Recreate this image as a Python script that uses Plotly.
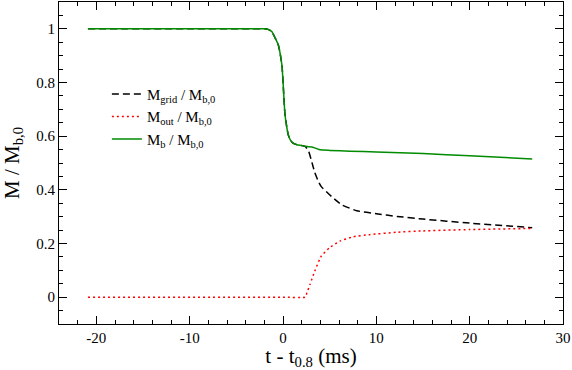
"""Mass fractions vs time around t_0.8."""

import plotly.graph_objects as go

# M_b / M_b,0
t_b = [-20.9, -10, -3, -2, -1.6, -1.2, -0.86, -0.5, -0.3, -0.1, 0.04, 0.2, 0.4, 0.57,
       0.8, 1.07, 1.5, 2.0, 2.36, 2.7, 3.07, 3.5, 3.97, 5, 7.2, 10, 15, 20, 26.7]
m_b = [1.0, 1.0, 1.0, 1.0, 0.998, 0.99, 0.967, 0.94, 0.907, 0.86, 0.78, 0.685, 0.635, 0.604,
       0.585, 0.574, 0.568, 0.565, 0.562, 0.561, 0.56, 0.555, 0.549, 0.547, 0.544, 0.541,
       0.535, 0.527, 0.515]

# M_grid / M_b,0
t_grid = [-20.9, -10, -3, -2, -1.6, -1.2, -0.86, -0.5, -0.3, -0.1, 0.04, 0.2, 0.4, 0.57,
          0.8, 1.07, 1.5, 2.0, 2.36, 2.7, 3.0, 3.4, 3.8, 4.1, 5.2, 6.3, 7.9, 10, 12.2,
          15, 20, 26.7]
m_grid = [1.0, 1.0, 1.0, 1.0, 0.998, 0.99, 0.967, 0.94, 0.907, 0.86, 0.78, 0.685, 0.635,
          0.604, 0.585, 0.574, 0.568, 0.565, 0.562, 0.548, 0.515, 0.465, 0.43, 0.412,
          0.375, 0.344, 0.322, 0.311, 0.301, 0.291, 0.276, 0.259]

# M_out / M_b,0
t_out = [-20.9, 0, 2.36, 2.6, 2.9, 3.4, 4.1, 5.0, 6.1, 7.5, 9.3, 12.2, 15, 20, 26.7]
m_out = [0, 0, 0, 0.02, 0.048, 0.097, 0.153, 0.185, 0.209, 0.225, 0.233, 0.242, 0.247,
         0.252, 0.256]

x_ticks = [-20, -10, 0, 10, 20, 30]
x_labels = ["-20", "-10", "0", "10", "20", "30"]
y_ticks = [0, 0.2, 0.4, 0.6, 0.8, 1.0]
y_labels = ["0", "0.2", "0.4", "0.6", "0.8", "1"]

SERIF = "Liberation Serif"

fig = go.Figure()
fig.add_trace(go.Scatter(x=t_grid, y=m_grid, mode="lines", name="M<sub>grid</sub> / M<sub>b,0</sub>",
                         line=dict(color="black", width=1.5, dash="7px,4px", shape="spline", smoothing=0.4)))
fig.add_trace(go.Scatter(x=t_out, y=m_out, mode="lines", name="M<sub>out</sub> / M<sub>b,0</sub>",
                         line=dict(color="red", width=1.5, dash="2px,3px", shape="spline", smoothing=0.4)))
fig.add_trace(go.Scatter(x=t_b, y=m_b, mode="lines", name="M<sub>b</sub> / M<sub>b,0</sub>",
                         line=dict(color="rgb(0,139,0)", width=1.5, shape="spline", smoothing=0.4)))

axis_common = dict(showline=True, linecolor="black", linewidth=1, mirror="ticks",
                   ticks="inside", ticklen=8, tickwidth=1, tickcolor="black",
                   showgrid=False, zeroline=False, automargin=False,
                   tickfont=dict(family=SERIF, size=15, color="black"))

fig.update_xaxes(range=[-24, 30], tickvals=x_ticks, ticktext=x_labels,
                 minor=dict(ticks="inside", ticklen=4, dtick=2, tick0=0, tickcolor="black"),
                 title=dict(text="t - t<sub>0.8</sub> (ms)",
                            font=dict(family=SERIF, size=21, color="black")),
                 **axis_common)
fig.update_yaxes(range=[-0.1, 1.1], tickvals=y_ticks, ticktext=y_labels,
                 minor=dict(ticks="inside", ticklen=4, dtick=0.05, tick0=0, tickcolor="black"),
                 title=dict(text="M / M<sub>b,0</sub>",
                            font=dict(family=SERIF, size=21, color="black")),
                 **axis_common)

fig.update_layout(
    width=572, height=370,
    font=dict(family=SERIF, color="black"),
    margin=dict(l=59, r=9, t=2, b=46),
    paper_bgcolor="white", plot_bgcolor="white",
    legend=dict(x=0.095, y=0.765, xanchor="left", yanchor="top", bgcolor="rgba(0,0,0,0)",
                font=dict(family=SERIF, size=15, color="black"),
                tracegroupgap=0, itemwidth=30),
)

fig.write_html("out.html", config={"displayModeBar": False},
               post_script="document.body.style.margin='0px';")
